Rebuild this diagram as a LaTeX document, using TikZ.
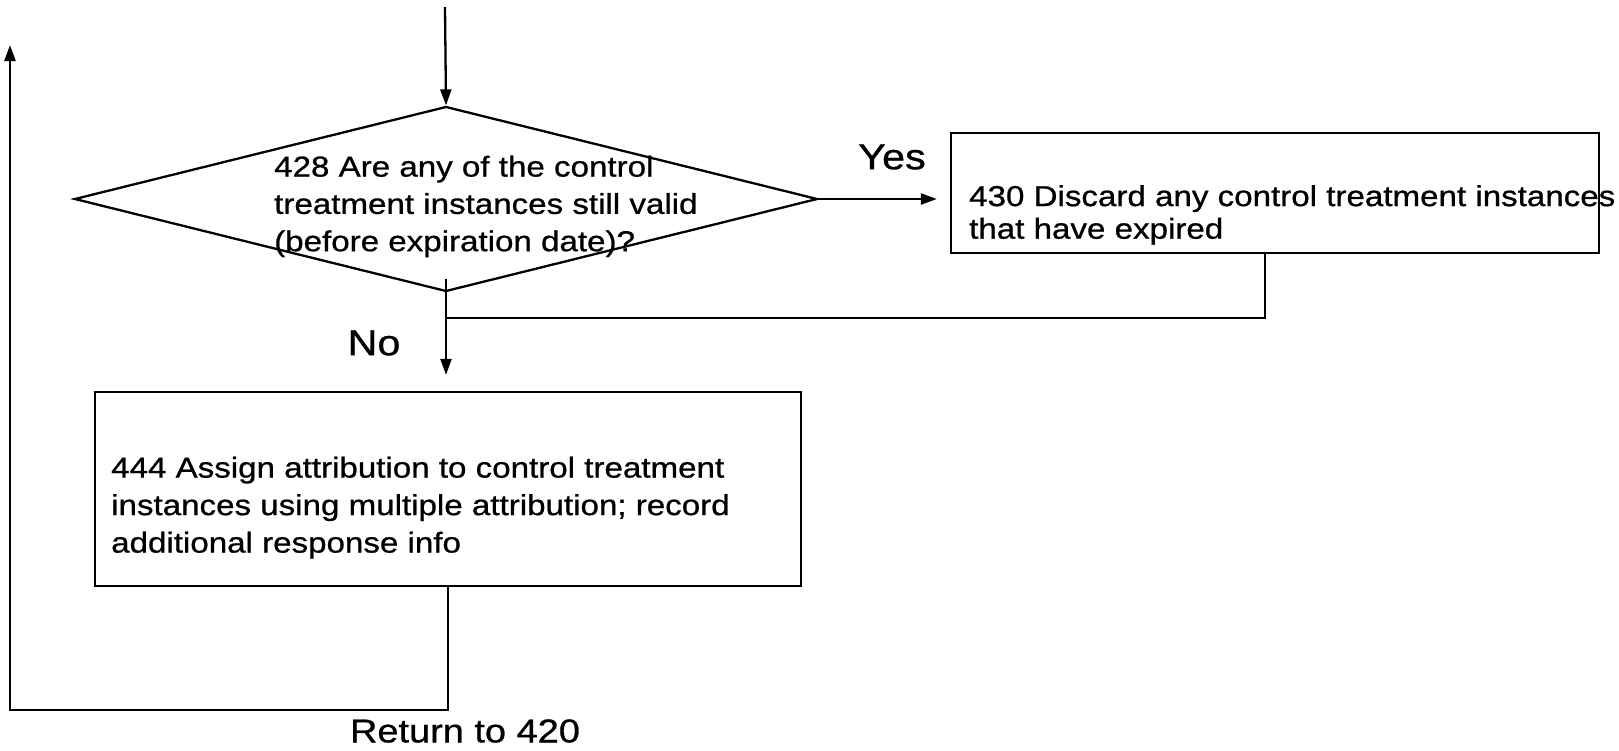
\documentclass[tikz,border=0pt]{standalone}
\usepackage{fontspec}
\setmainfont{Liberation Sans}[FakeStretch=1.15,FakeBold=0.8]
\usepackage{tikz}
\usetikzlibrary{shapes.geometric,arrows.meta}
\tikzset{
  % linee e frecce del diagramma
  flow/.style={line width=2.3pt},
  flowarrow/.style={flow, -{Triangle[length=16pt,width=11pt]}},
  % blocchi
  stepbox/.style={draw, line width=2.3pt, rectangle, inner sep=0pt},
  decision/.style={draw, line width=2.3pt, diamond, inner sep=0pt},
  % testi
  boxtext/.style={anchor=north west, align=left, inner sep=0pt},
  branchlabel/.style={inner sep=0pt, font=\fontsize{36}{42}\selectfont}
}

\begin{document}
\begin{tikzpicture}[x=1pt,y=-1pt]
  \useasboundingbox (0,0) rectangle (1619,750);

  % blocchi
  \node[decision, minimum width=743pt, minimum height=185pt] (d428) at (446,199) {};
  \node[stepbox, minimum width=648pt, minimum height=120pt] (b430) at (1275,193) {};
  \node[stepbox, minimum width=706pt, minimum height=194pt] (b444) at (448,489) {};

  % testi dei blocchi
  \node[boxtext, font=\fontsize{28.8}{37.3}\selectfont] (t428) at (274,155.5)
    {428 Are any of the control\\treatment instances still valid\\(before expiration date)?};
  \node[boxtext, font=\fontsize{28.8}{32.6}\selectfont] (t430) at (969,185)
    {430 Discard any control treatment instances\\that have expired};
  \node[boxtext, font=\fontsize{28.8}{37.5}\selectfont] (t444) at (111,456.5)
    {444 Assign attribution to control treatment\\instances using multiple attribution; record\\additional response info};

  % etichette
  \node[branchlabel] (lyes) at (892,157) {Yes};
  \node[branchlabel] (lno) at (374,343) {No};
  \node[branchlabel, font=\fontsize{33}{38}\selectfont] (lret) at (465,731) {Return to 420};

  % punti liberi
  \coordinate (entry) at (445,7);
  \coordinate (join) at (445,318);
  \coordinate (lowleft) at (10,710);
  \coordinate (loopend) at (10,45);

  % connessioni
  \draw[flowarrow] (entry) -- (d428.north);
  \draw[flowarrow, shorten >=13pt] (d428.east) -- (b430.west |- d428.east);
  \draw[flow] ([xshift=-10pt]b430.south) |- (join);
  \draw[flowarrow, shorten >=16pt] ([yshift=14pt]d428.south) -- (b444.north -| d428.south);
  \draw[flowarrow] (b444.south) |- (lowleft) -- (loopend);
\end{tikzpicture}
\end{document}
